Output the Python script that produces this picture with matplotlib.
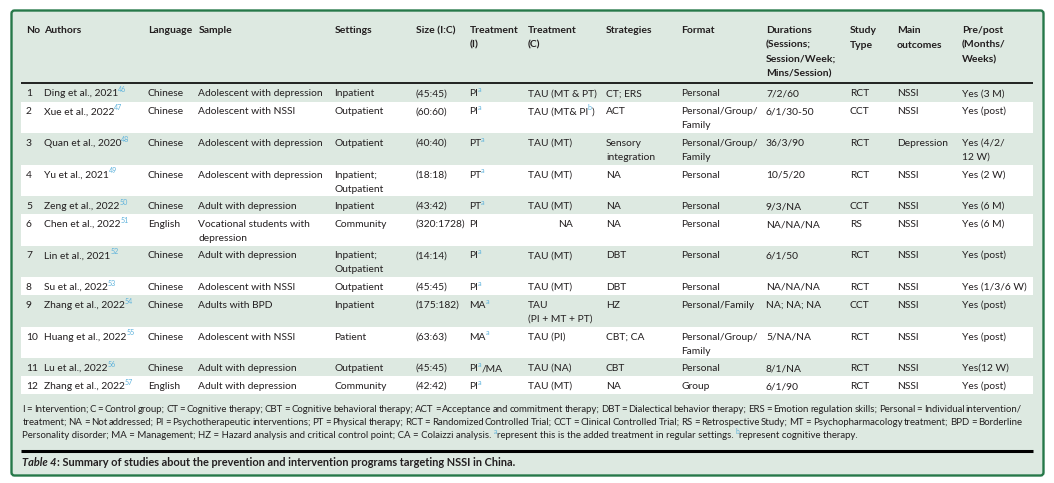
import re
import matplotlib
matplotlib.use('Agg')
import matplotlib.pyplot as plt
from matplotlib.patches import Rectangle, FancyBboxPatch

# ---------------- data ----------------
headers = ["No", "Authors", "Language", "Sample", "Settings", "Size (I:C)",
           "Treatment\n(I)", "Treatment\n(C)", "Strategies", "Format",
           "Durations\n(Sessions;\nSession/Week;\nMins/Session)",
           "Study\nType", "Main\noutcomes", "Pre/post\n(Months/\nWeeks)"]
study_no = ["1", "2", "3", "4", "5", "6", "7", "8", "9", "10", "11", "12"]
authors = ["Ding et al., 2021", "Xue et al., 2022", "Quan et al., 2020", "Yu et al., 2021",
           "Zeng et al., 2022", "Chen et al., 2022", "Lin et al., 2021", "Su et al., 2022",
           "Zhang et al., 2022", "Huang et al., 2022", "Lu et al., 2022", "Zhang et al., 2022"]
ref_numbers = ["46", "47", "48", "49", "50", "51", "52", "53", "54", "55", "56", "57"]
languages = ["Chinese", "Chinese", "Chinese", "Chinese", "Chinese", "English",
             "Chinese", "Chinese", "Chinese", "Chinese", "Chinese", "English"]
samples = ["Adolescent with depression", "Adolescent with NSSI", "Adolescent with depression",
           "Adolescent with depression", "Adult with depression",
           "Vocational students with\ndepression", "Adult with depression",
           "Adolescent with NSSI", "Adults with BPD", "Adolescent with NSSI",
           "Adult with depression", "Adult with depression"]
settings = ["Inpatient", "Outpatient", "Outpatient", "Inpatient;\nOutpatient", "Inpatient",
            "Community", "Inpatient;\nOutpatient", "Outpatient", "Inpatient", "Patient",
            "Outpatient", "Community"]
sizes = ["(45:45)", "(60:60)", "(40:40)", "(18:18)", "(43:42)", "(320:1728)", "(14:14)",
         "(45:45)", "(175:182)", "(63:63)", "(45:45)", "(42:42)"]
treatment_i = ["PI{a}", "PI{a}", "PT{a}", "PT{a}", "PT{a}", "PI", "PI{a}", "PI{a}",
               "MA{a}", "MA{a}", "PI{a}/MA", "PI{a}"]
treatment_c = ["TAU (MT & PT)", "TAU (MT& PI{b})", "TAU (MT)", "TAU (MT)", "TAU (MT)", "NA",
               "TAU (MT)", "TAU (MT)", "TAU\n(PI + MT + PT)", "TAU (PI)", "TAU (NA)", "TAU (MT)"]
strategies = ["CT; ERS", "ACT", "Sensory\nintegration", "NA", "NA", "NA", "DBT", "DBT",
              "HZ", "CBT; CA", "CBT", "NA"]
formats = ["Personal", "Personal/Group/\nFamily", "Personal/Group/\nFamily", "Personal",
           "Personal", "Personal", "Personal", "Personal", "Personal/Family",
           "Personal/Group/\nFamily", "Personal", "Group"]
durations = ["7/2/60", "6/1/30-50", "36/3/90", "10/5/20", "9/3/NA", "NA/NA/NA", "6/1/50",
             "NA/NA/NA", "NA; NA; NA", "5/NA/NA", "8/1/NA", "6/1/90"]
study_types = ["RCT", "CCT", "RCT", "RCT", "CCT", "RS", "RCT", "RCT", "CCT", "RCT", "RCT", "RCT"]
outcomes = ["NSSI", "NSSI", "Depression", "NSSI", "NSSI", "NSSI", "NSSI", "NSSI", "NSSI",
            "NSSI", "NSSI", "NSSI"]
pre_post = ["Yes (3 M)", "Yes (post)", "Yes (4/2/\n12 W)", "Yes (2 W)", "Yes (6 M)",
            "Yes (6 M)", "Yes (post)", "Yes (1/3/6 W)", "Yes (post)", "Yes (post)",
            "Yes(12 W)", "Yes (post)"]
footnote_lines = [
    "I = Intervention; C = Control group; CT = Cognitive therapy; CBT = Cognitive behavioral therapy; "
    "ACT = Acceptance and commitment therapy; DBT = Dialectical behavior therapy; ERS = Emotion "
    "regulation skills; Personal = Individual intervention/",
    "treatment; NA = Not addressed; PI = Psychotherapeutic interventions; PT = Physical therapy; "
    "RCT = Randomized Controlled Trial; CCT = Clinical Controlled Trial; RS = Retrospective Study; "
    "MT = Psychopharmacology treatment; BPD = Borderline",
    "Personality disorder; MA = Management; HZ = Hazard analysis and critical control point; "
    "CA = Colaizzi analysis. {a}represent this is the added treatment in regular settings. "
    "{b}represent cognitive therapy.",
]
caption_label = "Table 4"
caption_text = ": Summary of studies about the prevention and intervention programs targeting NSSI in China."

# ---------------- style / layout ----------------
FONT = 'Lato'
plt.rcParams['font.family'] = [FONT, 'DejaVu Sans']
GREEN_BG = '#dde9e1'
BORDER = '#267849'
TEXT = '#231f20'
SUP = '#5fb3dc'

col_x = [26, 44.5, 148, 198.5, 334.5, 415.5, 469.5, 528, 606, 681, 766, 850, 897, 962]
cell_indent = {(5, 7): 30}   # (row, col) -> extra x offset
table_left, table_right = 20.5, 1033
header_line_y = 82.5
first_row_top = 83.5
head_base0, head_step = 33.0, 14.5
body_step = 14.0

fig = plt.figure(figsize=(10.54, 4.83), dpi=100)
ax = fig.add_axes([0, 0, 1, 1])
ax.set_xlim(0, 1054)
ax.set_ylim(483, 0)
ax.axis('off')
renderer = fig.canvas.get_renderer()


def raw_w(s, size, weight='normal', style='normal'):
    t = ax.text(0, 0, s, fontsize=size, fontweight=weight, fontstyle=style)
    w = t.get_window_extent(renderer).width
    t.remove()
    return w


def text_w(s, size, weight='normal', style='normal'):
    return raw_w('|' + s + '|', size, weight, style) - raw_w('||', size, weight, style)


def segments(s):
    out = []
    for part in re.split(r'(\{[^}]*\})', s):
        if not part:
            continue
        if part.startswith('{'):
            out.append((part[1:-1], True))
        else:
            out.append((part, False))
    return out


SUP_SCALE = 0.7


def rich_w(s, size, weight='normal'):
    return sum(text_w(t, size * SUP_SCALE if sup else size, weight) for t, sup in segments(s))


def draw_rich(x, y, s, size, weight='normal', color=TEXT, step=14.0):
    for i, line in enumerate(s.split('\n')):
        cx = x
        yy = y + i * step
        for t, sup in segments(line):
            if sup:
                cx -= 0.6
                ax.text(cx, yy - size * 0.6, t, fontsize=size * SUP_SCALE, color=SUP,
                        fontweight=weight, va='baseline', ha='left')
                cx += text_w(t, size * SUP_SCALE, weight)
            else:
                ax.text(cx, yy, t, fontsize=size, color=color, fontweight=weight,
                        va='baseline', ha='left')
                cx += text_w(t, size, weight)


def fit(s, target, weight='normal', ref=10.0):
    return ref * target / rich_w(s, ref, weight)


body_size = fit("Adolescent with depression", 125)
head_size = fit("Treatment", 49, 'bold')
foot_size = fit(footnote_lines[2], 834)

# ---------------- background ----------------
ax.add_patch(FancyBboxPatch((11.5, 10.5), 1032, 465,
                            boxstyle="round,pad=0,rounding_size=3",
                            fc=GREEN_BG, ec=BORDER, lw=1.7, zorder=0))

rows = list(zip(study_no, authors, languages, samples, settings, sizes, treatment_i,
                treatment_c, strategies, formats, durations, study_types, outcomes, pre_post))

# row geometry
tops = []
y = first_row_top
heights = []
for r in rows:
    n = max(c.count('\n') + 1 for c in r)
    h = 4.5 + 13.5 * n
    tops.append(y)
    heights.append(h)
    y += h

for i, (top, h) in enumerate(zip(tops, heights)):
    if i % 2 == 1:
        ax.add_patch(Rectangle((table_left, top), table_right - table_left, h,
                               fc='white', ec='none', zorder=0.5))

# header
for x, h in zip(col_x, headers):
    draw_rich(x, head_base0, h, head_size, 'bold', step=head_step)
ax.plot([table_left, table_right], [header_line_y, header_line_y], color='black', lw=1.2,
        solid_capstyle='butt', zorder=2)

# body
for i, r in enumerate(rows):
    base = tops[i] + 13.0
    for j, (x, cell) in enumerate(zip(col_x, r)):
        if j == 1:
            cell = cell + '{' + ref_numbers[i] + '}'
        draw_rich(x + cell_indent.get((i, j), 0), base, cell, body_size, step=body_step)

# footnotes
foot_x0, foot_x1 = 22.5, 1022
foot_base = [412, 425, 438]
for k, line in enumerate(footnote_lines):
    if k < len(footnote_lines) - 1:
        words = line.split(' ')
        ws = [text_w(w, foot_size) for w in words]
        gap = (foot_x1 - foot_x0 - sum(ws)) / (len(words) - 1)
        cx = foot_x0
        for w, wd in zip(words, ws):
            ax.text(cx, foot_base[k], w, fontsize=foot_size, color=TEXT, va='baseline')
            cx += wd + gap
    else:
        draw_rich(foot_x0, foot_base[k], line, foot_size)

ax.plot([table_left, table_right], [451, 451], color='black', lw=2.2,
        solid_capstyle='butt', zorder=2)

# caption
cap_ref = 10.0
cap_w = text_w(caption_label, cap_ref, 'bold', 'italic') + text_w(caption_text, cap_ref, 'bold')
cap_size = cap_ref * 494 / cap_w
ax.text(22.5, 466, caption_label, fontsize=cap_size, fontweight='bold', fontstyle='italic',
        color=TEXT, va='baseline')
ax.text(22.5 + text_w(caption_label, cap_size, 'bold', 'italic'), 466, caption_text,
        fontsize=cap_size, fontweight='bold', color=TEXT, va='baseline')

fig.savefig('out.png', dpi=100)
